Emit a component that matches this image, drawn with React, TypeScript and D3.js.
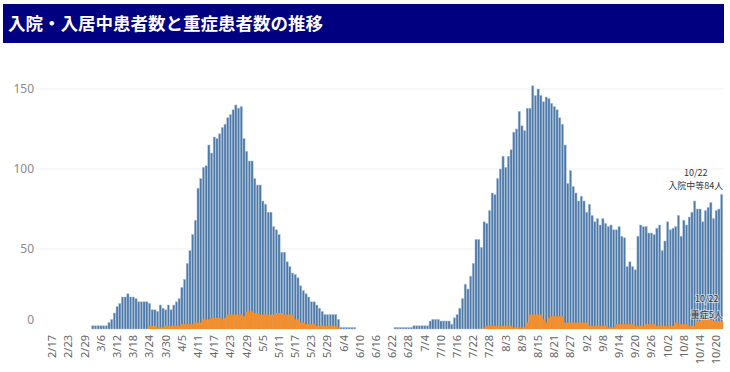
import React from 'react';
import * as d3 from 'd3';

// daily counts from 2/17 to 10/22
const inpatients = [
  0, 0, 0, 0, 0, 0, 0, 0, 0, 0,
  0, 0, 0, 0, 0, 2, 2, 2, 2, 2,
  2, 4, 6, 10, 14, 16, 20, 20, 22, 20,
  20, 19, 17, 17, 17, 17, 16, 12, 12, 11,
  15, 13, 12, 15, 12, 15, 17, 19, 26, 31,
  41, 49, 59, 68, 88, 94, 101, 102, 115, 110,
  120, 119, 122, 126, 128, 132, 134, 137, 140, 138,
  139, 119, 111, 105, 105, 94, 90, 90, 80, 78,
  73, 73, 64, 62, 59, 48, 48, 42, 39, 35,
  34, 32, 27, 24, 22, 20, 17, 17, 15, 13,
  11, 9, 9, 9, 9, 9, 6, 1, 1, 1,
  1, 1, 1, 0, 0, 0, 0, 0, 0, 0,
  0, 0, 0, 0, 0, 0, 0, 1, 1, 1,
  1, 1, 1, 1, 2, 2, 2, 2, 2, 2,
  5, 6, 6, 6, 5, 5, 5, 5, 3, 7,
  9, 13, 19, 28, 25, 33, 41, 56, 56, 51,
  67, 66, 74, 85, 84, 94, 100, 108, 101, 108,
  112, 123, 125, 136, 127, 124, 138, 138, 152, 146,
  150, 146, 142, 145, 144, 141, 139, 137, 132, 128,
  115, 91, 99, 89, 85, 80, 83, 80, 73, 78,
  71, 67, 69, 65, 69, 66, 64, 65, 62, 62,
  64, 58, 57, 39, 42, 39, 37, 58, 65, 64,
  64, 60, 60, 59, 63, 65, 49, 55, 67, 62,
  63, 64, 71, 58, 68, 65, 70, 73, 80, 75,
  75, 67, 74, 76, 79, 69, 74, 75, 84,
];

const severe = [
  0, 0, 0, 0, 0, 0, 0, 0, 0, 0,
  0, 0, 0, 0, 0, 0, 0, 0, 0, 0,
  0, 0, 0, 0, 0, 0, 0, 0, 0, 0,
  0, 0, 0, 0, 0, 0, 2, 2, 2, 1,
  1, 1, 2, 2, 2, 2, 2, 2, 3, 3,
  3, 3, 3, 4, 4, 4, 6, 6, 6, 7,
  7, 7, 7, 6, 7, 9, 9, 9, 9, 9,
  9, 8, 11, 11, 11, 10, 10, 9, 9, 9,
  9, 9, 9, 10, 10, 10, 9, 9, 9, 9,
  6, 6, 4, 4, 3, 3, 3, 3, 2, 2,
  2, 2, 2, 2, 2, 2, 1, 0, 0, 0,
  0, 0, 0, 0, 0, 0, 0, 0, 0, 0,
  0, 0, 0, 0, 0, 0, 0, 0, 0, 0,
  0, 0, 0, 0, 0, 0, 0, 0, 0, 0,
  0, 0, 0, 0, 0, 0, 0, 0, 0, 0,
  0, 0, 0, 0, 0, 0, 0, 0, 0, 0,
  1, 2, 2, 2, 2, 2, 2, 2, 2, 2,
  2, 1, 1, 1, 1, 1, 4, 9, 9, 9,
  9, 9, 6, 4, 7, 8, 8, 8, 8, 8,
  4, 4, 4, 4, 4, 4, 4, 4, 4, 2,
  2, 2, 2, 2, 2, 2, 1, 1, 1, 3,
  3, 3, 3, 3, 3, 3, 2, 2, 2, 2,
  3, 3, 3, 3, 2, 2, 2, 2, 2, 2,
  2, 4, 3, 3, 3, 3, 2, 2, 2, 5,
  5, 6, 6, 6, 6, 5, 5, 5, 5,
];

const yTicks = [0, 50, 100, 150];
const title = '入院・入居中患者数と重症患者数の推移';

const startDay = new Date(2020, 1, 17);
const days = inpatients.map((_, i) => d3.timeDay.offset(startDay, i));
const fmt = (d: Date) => `${d.getMonth() + 1}/${d.getDate()}`;
const dayLabels = days.map(fmt);

const W = 730;
const H = 372;
const BLUE = '#4e79a7';
const ORANGE = '#f28e2b';

export default function App() {
  const x = d3.scaleBand<string>().domain(dayLabels).range([51, 723]).paddingInner(0);
  const y = d3.scaleLinear().domain([0, 150]).range([329, 89]);
  const bw = x.bandwidth();

  const last = dayLabels.length - 1;
  const lastX = (x(dayLabels[last]) as number) + bw / 2;

  return (
    <svg width={W} height={H} style={{ position: 'absolute', left: 0, top: 0, background: '#fff' }}
      fontFamily="'Noto Sans CJK JP', 'Noto Sans', sans-serif">
      <rect x={3} y={4} width={721} height={39} fill="#000080" />
      <text x={8} y={30} fill="#fff" fontSize={17.5} fontWeight="bold">{title}</text>

      {/* gridlines + y labels */}
      {yTicks.map((t) => (
        <g key={t}>
          {t > 0 && <line x1={36} x2={724} y1={y(t)} y2={y(t)} stroke="#efefef" strokeWidth={1} />}
          <text x={34} y={t === 0 ? y(t) - 9 : y(t)} dy="0.35em" textAnchor="end" fontSize={12}
            fill="#8a8a8a" fontFamily="'Noto Sans', sans-serif">{t}</text>
        </g>
      ))}

      {/* inpatient bars */}
      {inpatients.map((v, i) => v > 0 && (
        <rect key={'b' + i} x={(x(dayLabels[i]) as number) + 0.25} width={bw - 0.5}
          y={y(v)} height={y(0) - y(v)} fill={BLUE} stroke="#a9c1dc" strokeWidth={0.5} />
      ))}

      {/* severe bars */}
      {severe.map((v, i) => v > 0 && (
        <rect key={'o' + i} x={x(dayLabels[i]) as number} width={bw + 0.2}
          y={y(v)} height={y(0) - y(v)} fill={ORANGE} />
      ))}

      {/* x labels */}
      {dayLabels.filter((_, i) => i % 6 === 0).map((lab) => {
        const cx = (x(lab) as number) + bw / 2;
        return (
          <text key={lab} transform={`translate(${cx},335) rotate(-90)`} dy="0.35em" textAnchor="end"
            fontSize={11} fill="#666" fontFamily="'Noto Sans', sans-serif">{lab}</text>
        );
      })}

      {/* annotations */}
      <g fontSize={9} fill="#333" textAnchor="middle">
        <text x={lastX - 26} y={176}>{dayLabels[last]}</text>
        <text x={lastX - 26} y={189}>入院中等{inpatients[last]}人</text>
        <g stroke="#fff" strokeOpacity={0.55} strokeWidth={2} style={{ paintOrder: 'stroke' }}>
          <text x={lastX - 15} y={302}>{dayLabels[last]}</text>
          <text x={lastX - 15} y={318}>重症{severe[last]}人</text>
        </g>
      </g>
    </svg>
  );
}
